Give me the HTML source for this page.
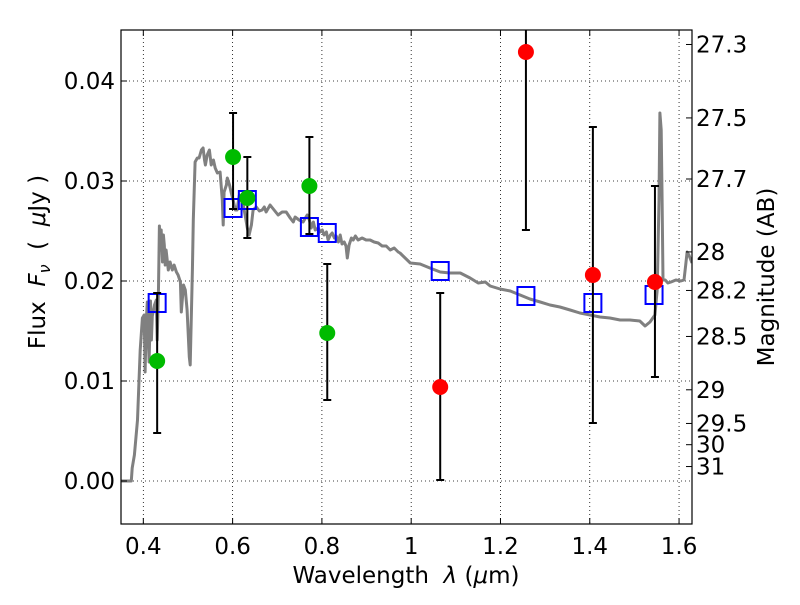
<!DOCTYPE html>
<html><head><meta charset="utf-8"><style>
body{margin:0;background:#fff}
svg text{font-family:"DejaVu Sans","Liberation Sans",sans-serif;font-size:23px;fill:#000}
</style></head><body>
<svg id="chart" width="800" height="600"></svg>
<script>
const specWl=[0.351,0.373,0.375,0.380,0.387,0.393,0.398,0.402,0.404,0.407,0.409,0.413,0.416,0.418,0.420,0.425,0.429,0.431,0.434,0.436,0.438,0.440,0.443,0.445,0.447,0.449,0.451,0.456,0.460,0.465,0.469,0.474,0.478,0.483,0.485,0.490,0.494,0.498,0.503,0.505,0.510,0.512,0.516,0.521,0.525,0.530,0.534,0.537,0.539,0.543,0.548,0.552,0.557,0.561,0.566,0.572,0.577,0.579,0.581,0.586,0.588,0.593,0.597,0.601,0.606,0.610,0.615,0.619,0.624,0.628,0.633,0.637,0.642,0.646,0.653,0.660,0.666,0.671,0.675,0.684,0.693,0.702,0.711,0.720,0.729,0.736,0.740,0.749,0.758,0.767,0.772,0.776,0.781,0.785,0.792,0.796,0.801,0.805,0.810,0.814,0.819,0.823,0.828,0.832,0.837,0.841,0.845,0.850,0.854,0.857,0.861,0.866,0.870,0.875,0.881,0.890,0.899,0.908,0.917,0.926,0.935,0.944,0.953,0.962,0.971,0.975,0.998,1.020,1.042,1.065,1.087,1.110,1.132,1.150,1.166,1.177,1.199,1.222,1.244,1.266,1.289,1.311,1.333,1.356,1.378,1.401,1.423,1.445,1.468,1.490,1.512,1.524,1.535,1.546,1.551,1.555,1.557,1.560,1.562,1.564,1.569,1.575,1.582,1.593,1.604,1.611,1.615,1.618,1.622,1.629];
const specFlux=[0,0,0.0013,0.0026,0.0061,0.0131,0.0163,0.0166,0.0109,0.0163,0.0179,0.0119,0.0180,0.0141,0.0165,0.0176,0.0181,0.0141,0.0193,0.0255,0.0231,0.0251,0.0219,0.0246,0.0236,0.0216,0.0231,0.0211,0.0219,0.0211,0.0216,0.0209,0.0206,0.0199,0.0169,0.0196,0.0191,0.0171,0.0124,0.0116,0.0211,0.0261,0.0319,0.0323,0.0323,0.0331,0.0333,0.0321,0.0316,0.0326,0.0331,0.0316,0.0321,0.0313,0.0308,0.0309,0.0281,0.0256,0.0289,0.0296,0.0303,0.0296,0.0288,0.0281,0.0271,0.0271,0.0286,0.0281,0.0276,0.0266,0.0253,0.0246,0.0256,0.0271,0.0274,0.0270,0.0271,0.0274,0.0269,0.0276,0.0271,0.0266,0.0269,0.0269,0.0263,0.0259,0.0264,0.0261,0.0259,0.0266,0.0261,0.0253,0.0259,0.0251,0.0253,0.0249,0.0251,0.0246,0.0249,0.0241,0.0246,0.0248,0.0243,0.0245,0.0239,0.0246,0.0237,0.0239,0.0235,0.0223,0.0236,0.0243,0.0241,0.0245,0.0241,0.0243,0.0241,0.0241,0.0239,0.0238,0.0235,0.0235,0.0231,0.0233,0.0229,0.0228,0.0218,0.0217,0.0213,0.0209,0.0208,0.0208,0.0203,0.0198,0.0199,0.0195,0.0192,0.0190,0.0186,0.0182,0.0179,0.0176,0.0174,0.0171,0.0168,0.0166,0.0164,0.0163,0.0161,0.0161,0.0160,0.0155,0.0159,0.0166,0.0191,0.0281,0.0368,0.0351,0.0281,0.0201,0.0201,0.0198,0.0199,0.0201,0.0200,0.0201,0.0216,0.0229,0.0226,0.0218];
const greenWl=[0.431,0.601,0.633,0.772,0.812];
const greenFlux=[0.0120,0.0324,0.0283,0.0295,0.0148];
const greenLo=[0.0048,0.0272,0.0243,0.0247,0.0081];
const greenHi=[0.0188,0.0368,0.0324,0.0344,0.0217];
const redWl=[1.065,1.257,1.407,1.546];
const redFlux=[0.0094,0.0429,0.0206,0.0199];
const redLo=[0.0001,0.0251,0.0058,0.0104];
const redHi=[0.0188,0.0480,0.0354,0.0295];
const modelWl=[0.431,0.601,0.633,0.772,0.812,1.065,1.257,1.407,1.544];
const modelFlux=[0.0178,0.0273,0.0281,0.0254,0.0248,0.0210,0.0185,0.0178,0.0186];
const xTicks=[0.4,0.6,0.8,1.0,1.2,1.4,1.6];
const xTickLabels=["0.4","0.6","0.8","1","1.2","1.4","1.6"];
const yTicks=[0,0.01,0.02,0.03,0.04];
const yTickLabels=["0.00","0.01","0.02","0.03","0.04"];
const magTicks=[27.3,27.5,27.7,28,28.2,28.5,29,29.5,30,31];

const L=121,R=692,T=30,B=524;
const X0=0.35,X1=1.629,Y0=-0.0043,Y1=0.0451;
const sx=v=>L+(v-X0)/(X1-X0)*(R-L);
const sy=v=>B-(v-Y0)/(Y1-Y0)*(B-T);
const NS="http://www.w3.org/2000/svg";
const svg=document.getElementById('chart');
function mk(tag,attrs,parent){const e=document.createElementNS(NS,tag);for(const k in attrs)e.setAttribute(k,attrs[k]);(parent||svg).appendChild(e);return e;}

const defs=mk('defs',{});
const cp=mk('clipPath',{id:'clip'},defs);mk('rect',{x:L,y:T,width:R-L,height:B-T},cp);

xTicks.forEach(v=>{const g=mk('line',{x1:sx(v),x2:sx(v),y1:T,y2:B,stroke:'#000','stroke-width':0.8,'stroke-dasharray':'1,3'});

});
yTicks.forEach(v=>{const g=mk('line',{x1:L,x2:R,y1:sy(v),y2:sy(v),stroke:'#000','stroke-width':0.8,'stroke-dasharray':'1,3'});

});

const pts=specWl.map((w,i)=>sx(w).toFixed(1)+','+sy(specFlux[i]).toFixed(1)).join(' ');
const sp=mk('polyline',{points:pts,fill:'none',stroke:'#808080','stroke-width':3,'stroke-linejoin':'round','clip-path':'url(#clip)'});



modelWl.forEach((w,i)=>{const r=mk('rect',{x:sx(w)-8.5,y:sy(modelFlux[i])-9,width:17,height:18,fill:'none',stroke:'#0000ff','stroke-width':2});

});

function series(wl,fl,lo,hi,color,name){
  wl.forEach((w,i)=>{
    const g=mk('g',{'clip-path':'url(#clip)'});
    
    
    const x=sx(w);
    mk('line',{x1:x,x2:x,y1:sy(lo[i]),y2:sy(hi[i]),stroke:'#000','stroke-width':2},g);
    mk('line',{x1:x-4,x2:x+4,y1:sy(lo[i]),y2:sy(lo[i]),stroke:'#000','stroke-width':2},g);
    mk('line',{x1:x-4,x2:x+4,y1:sy(hi[i]),y2:sy(hi[i]),stroke:'#000','stroke-width':2},g);
    const c=mk('circle',{cx:x,cy:sy(fl[i]),r:8,fill:color});
    
    
  });
}
series(greenWl,greenFlux,greenLo,greenHi,'#00bb00','observed-green');
series(redWl,redFlux,redLo,redHi,'#ff0000','observed-red');

const fr=mk('rect',{x:L,y:T,width:R-L,height:B-T,fill:'none',stroke:'#000','stroke-width':1.2});



xTicks.forEach((v,i)=>{const x=sx(v);
  mk('line',{x1:x,x2:x,y1:B,y2:B-6,stroke:'#000'});
  mk('line',{x1:x,x2:x,y1:T,y2:T+6,stroke:'#000'});
  const t=mk('text',{x:x,y:B+30,'text-anchor':'middle'});t.textContent=xTickLabels[i];
  
  });
yTicks.forEach((v,i)=>{const y=sy(v);
  mk('line',{x1:L,x2:L+6,y1:y,y2:y,stroke:'#000'});
  const t=mk('text',{x:L-6,y:y+8,'text-anchor':'end'});t.textContent=yTickLabels[i];
  
  });
magTicks.forEach(m=>{const y=sy(Math.pow(10,(23.9-m)/2.5));
  mk('line',{x1:R,x2:R-6,y1:y,y2:y,stroke:'#000'});
  const t=mk('text',{x:R+4,y:y+8});t.textContent=String(m);
  
  });
</script>
<svg width="800" height="600" style="position:absolute;left:0;top:0">
<text x="406" y="583" text-anchor="middle">Wavelength&#160;&#160;<tspan font-style="italic">λ</tspan> (<tspan font-style="italic">μ</tspan>m)</text>
<text transform="translate(45,262) rotate(-90)" text-anchor="middle">Flux&#160;&#160;<tspan font-style="italic">F</tspan><tspan font-style="italic" font-size="16" dy="5">ν</tspan><tspan dy="-5">&#160;&#160;(&#160;&#160;</tspan><tspan font-style="italic">μ</tspan>Jy )</text>
<text transform="translate(774,277) rotate(-90)" text-anchor="middle">Magnitude (AB)</text>
</svg>
</body></html>
